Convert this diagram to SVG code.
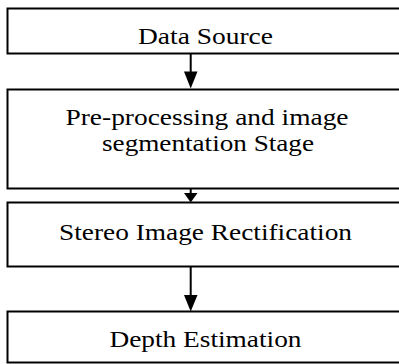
<svg xmlns="http://www.w3.org/2000/svg" width="399" height="364" viewBox="0 0 399 364">
<style>
.box{fill:#fff;stroke:#000;stroke-width:2}
.lbl{font-family:"Liberation Serif","Times New Roman",serif;font-size:24px;fill:#000;text-anchor:middle}
.conn line{stroke:#000;stroke-width:2}
.conn polygon{fill:#000}
</style>
<rect width="399" height="364" fill="#fff"/>
<g id="node-data-source">
<rect class="box" x="7.5" y="8.5" width="400" height="45"/>
<text class="lbl" x="205.5" y="43.5" textLength="135" lengthAdjust="spacingAndGlyphs">Data Source</text>
</g>
<g id="node-preprocessing">
<rect class="box" x="7.5" y="89.5" width="400" height="99"/>
<text class="lbl" x="207" y="125" textLength="283" lengthAdjust="spacingAndGlyphs">Pre-processing and image</text>
<text class="lbl" x="208" y="151" textLength="212" lengthAdjust="spacingAndGlyphs">segmentation Stage</text>
</g>
<g id="node-rectification">
<rect class="box" x="7.5" y="202.5" width="400" height="64"/>
<text class="lbl" x="205.5" y="240" textLength="293" lengthAdjust="spacingAndGlyphs">Stereo Image Rectification</text>
</g>
<g id="node-depth">
<rect class="box" x="7.5" y="311.5" width="400" height="51"/>
<text class="lbl" x="205.5" y="347" textLength="192" lengthAdjust="spacingAndGlyphs">Depth Estimation</text>
</g>
<g id="connectors" class="conn">
<line x1="190.7" y1="53.5" x2="190.7" y2="72"/>
<polygon points="184,71.5 197.5,71.5 190.7,88.5"/>
<line x1="190.7" y1="188.5" x2="190.7" y2="194"/>
<polygon points="184,193 197.5,193 190.7,202.5"/>
<line x1="190.7" y1="266.5" x2="190.7" y2="296"/>
<polygon points="184,295 197.5,295 190.7,311.5"/>
</g>
</svg>
